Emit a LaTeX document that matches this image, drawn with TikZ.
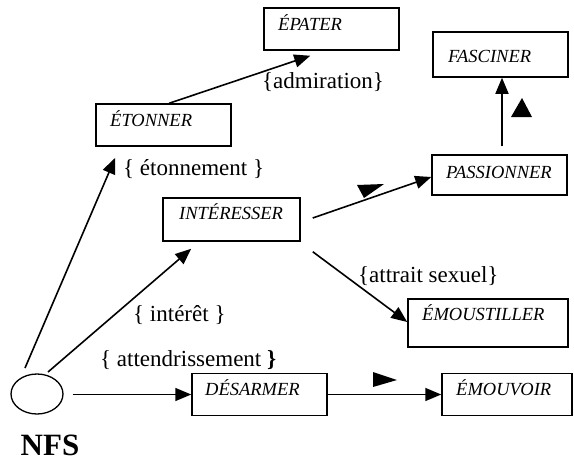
\documentclass[tikz,border=0pt]{standalone}
\usepackage{fontspec}
\setmainfont{Liberation Serif}
\usetikzlibrary{arrows.meta,shapes.geometric}
\begin{document}
\begin{tikzpicture}[x=1pt,y=-1pt,
  stage/.style={draw, line width=1.5pt, inner sep=0pt},
  verb/.style={font=\fontsize{18.5}{22}\selectfont\itshape, anchor=base west, inner sep=0pt},
  feel/.style={font=\fontsize{23}{27}\selectfont, anchor=base west, inner sep=0pt},
  arr/.style={line width=1.6pt, -{Triangle[length=16pt,width=13pt]}},
  stray/.style={fill=black, draw=none}]
\useasboundingbox (0,0) rectangle (574,461);

% origin
\node[draw, ellipse, line width=1.3pt, minimum width=52pt, minimum height=40pt, inner sep=0pt] (nfs) at (37,394) {};
\node[font=\fontsize{31}{36}\selectfont\bfseries, anchor=base, inner sep=0pt] (nfslabel) at (50,455) {NFS};

% verb boxes
\node[stage, minimum width=135pt, minimum height=42pt] (etonner) at (163.5,125) {};
\node[stage, minimum width=135pt, minimum height=42pt] (epater) at (331.5,29) {};
\node[stage, minimum width=135pt, minimum height=45pt] (fasciner) at (500.5,54.5) {};
\node[stage, minimum width=135pt, minimum height=40pt] (passionner) at (499.5,175) {};
\node[stage, minimum width=137pt, minimum height=43pt] (interesser) at (231.5,219.5) {};
\node[stage, minimum width=160pt, minimum height=48pt] (emoustiller) at (488,323) {};
\node[stage, minimum width=135pt, minimum height=42pt] (desarmer) at (259.5,394.5) {};
\node[stage, minimum width=130pt, minimum height=42pt] (emouvoir) at (507,394.5) {};

% verb names
\node[verb] (t-etonner) at (110,126) {ÉTONNER};
\node[verb] (t-epater) at (278,30) {ÉPATER};
\node[verb] (t-fasciner) at (448,62) {FASCINER};
\node[verb] (t-passionner) at (446,178) {PASSIONNER};
\node[verb] (t-interesser) at (179,219) {INTÉRESSER};
\node[verb] (t-emoustiller) at (422,320) {ÉMOUSTILLER};
\node[verb] (t-desarmer) at (205,395) {DÉSARMER};
\node[verb] (t-emouvoir) at (456,395) {ÉMOUVOIR};

% feelings
\node[feel] (f-admiration) at (262,88) {\{admiration\}};
\node[feel] (f-etonnement) at (123,175) {\{ étonnement \}};
\node[feel] (f-interet) at (133,321) {\{ intérêt \}};
\node[feel] (f-attend) at (100,366) {\{ attendrissement \textbf{\}}};
\node[feel] (f-attrait) at (358,282) {\{attrait sexuel\}};

% connectors
\draw[arr] ([shift={(-12,-26)}]nfs.center) -- ([shift={(20,11)}]etonner.south west);
\draw[arr] ([shift={(11,-22)}]nfs.center) -- ([shift={(29,7)}]interesser.south west);
\draw[arr] ([xshift=9pt]nfs.east |- desarmer.west) -- (desarmer.west);
\draw[arr] ([shift={(74,0)}]etonner.north west) -- ([shift={(47,5)}]epater.south west);
\draw[arr] ([shift={(12,-1.5)}]interesser.east) -- ([shift={(0,2)}]passionner.west);
\draw[arr] ([shift={(2.5,-8)}]passionner.north) -- ([shift={(1.5,0)}]fasciner.south);
\draw[arr] ([shift={(12,10)}]interesser.south east) -- ([shift={(0,-1)}]emoustiller.west);
\draw[arr] ([xshift=-2pt]desarmer.east) -- (emouvoir.west);

% loose arrowheads
\fill[stray] (357,185) -- (384,184) -- (364,198) -- cycle;
\fill[stray] (522,98) -- (511,117) -- (532,117) -- cycle;
\fill[stray] (373,372) -- (373,387) -- (397,380) -- cycle;
\end{tikzpicture}
\end{document}
